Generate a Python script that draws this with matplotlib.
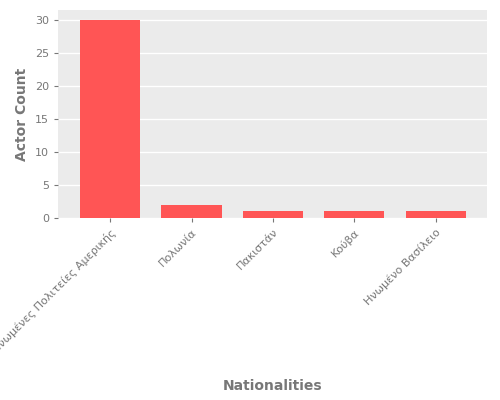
import matplotlib
matplotlib.use('Agg')
import matplotlib.pyplot as plt

nationalities = ['Ηνωμένες Πολιτείες Αμερικής', 'Πολωνία', 'Πακιστάν', 'Κούβα', 'Ηνωμένο Βασίλειο']
actor_counts = [30, 2, 1, 1, 1]

plt.rcParams['font.family'] = ['DejaVu Sans']
fig = plt.figure(figsize=(5, 4), dpi=100)
ax = fig.add_axes([0.116, 0.455, 0.858, 0.52])
ax.set_facecolor('#EBEBEB')
ax.bar(range(len(nationalities)), actor_counts, width=0.74, color='#FF5555', zorder=2)
ax.set_xlim(-0.64, 4.63)
ax.set_ylim(0, 31.5)
ax.set_yticks([0, 5, 10, 15, 20, 25, 30])
ax.grid(axis='y', color='white', linewidth=1, zorder=1)
ax.set_axisbelow(True)
for s in ax.spines.values():
    s.set_visible(False)
ax.set_xticks(range(len(nationalities)))
ax.set_xticklabels(nationalities, rotation=45, ha='right', rotation_mode='anchor')
ax.tick_params(colors='#777777', labelsize=8, length=3)
ax.set_ylabel('Actor Count', color='#777777', fontsize=10, fontweight='bold')
fig.text(0.546, 0.025, 'Nationalities', color='#777777', fontsize=10, fontweight='bold', ha='center')
fig.savefig('out.png', dpi=100)
